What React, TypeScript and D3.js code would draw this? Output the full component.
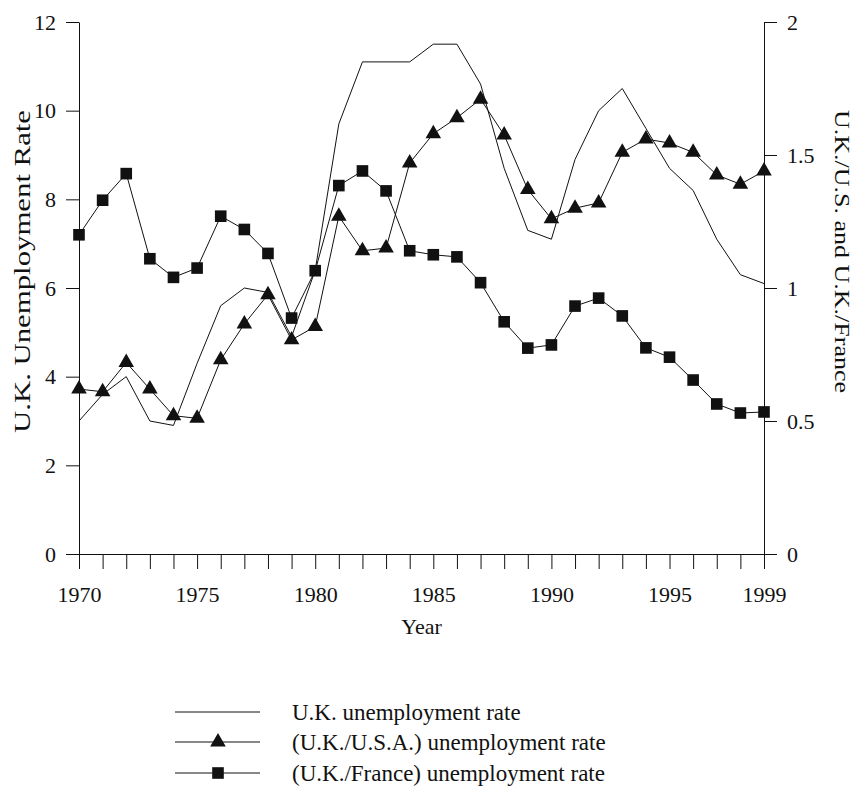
import React, { useEffect, useRef } from 'react';
import * as d3 from 'd3';

const years = d3.range(1970, 2000);
const ukRate = [3.0, 3.6, 4.0, 3.0, 2.9, 4.3, 5.6, 6.0, 5.9, 4.9, 6.4, 9.7, 11.1, 11.1, 11.1, 11.5, 11.5, 10.6, 8.7, 7.3, 7.1, 8.9, 10.0, 10.5, 9.6, 8.7, 8.2, 7.1, 6.3, 6.1];
const ukUsa = [0.62, 0.61, 0.72, 0.62, 0.52, 0.51, 0.73, 0.865, 0.975, 0.805, 0.855, 1.27, 1.14, 1.15, 1.47, 1.58, 1.64, 1.71, 1.575, 1.37, 1.26, 1.3, 1.32, 1.51, 1.56, 1.545, 1.51, 1.425, 1.39, 1.44];
const ukFrance = [1.2, 1.33, 1.43, 1.11, 1.04, 1.075, 1.27, 1.22, 1.13, 0.887, 1.065, 1.385, 1.44, 1.365, 1.14, 1.125, 1.117, 1.02, 0.873, 0.774, 0.786, 0.932, 0.962, 0.895, 0.775, 0.74, 0.654, 0.564, 0.53, 0.534];
const leftTicks = [0, 2, 4, 6, 8, 10, 12];
const rightTicks = [0, 0.5, 1, 1.5, 2];
const labelYears = [1970, 1975, 1980, 1985, 1990, 1995, 1999];
const legendLabels = ['U.K. unemployment rate', '(U.K./U.S.A.) unemployment rate', '(U.K./France) unemployment rate'];

function Chart() {
  const ref = useRef(null);

  useEffect(() => {
    const width = 855;
    const height = 792;
    const left = 79;
    const right = 764;
    const top = 22;
    const bottom = 554;
    const font = '"Liberation Serif", "Times New Roman", serif';
    const fs = 22;

    const svg = d3.select(ref.current);
    svg.selectAll('*').remove();
    svg.attr('width', width).attr('height', height);

    const x = d3.scaleLinear().domain([1970, 1999]).range([left, right]);
    const yL = d3.scaleLinear().domain([0, 12]).range([bottom, top]);
    const yR = d3.scaleLinear().domain([0, 2]).range([bottom, top]);

    const styleAxis = (g) => {
      g.attr('font-family', font).attr('font-size', fs);
      g.selectAll('line, path').attr('stroke', '#111');
      g.selectAll('text').attr('fill', '#111');
    };

    svg
      .append('g')
      .attr('transform', `translate(${left},0)`)
      .call(d3.axisLeft(yL).tickValues(leftTicks).tickSize(13).tickSizeOuter(0).tickPadding(10))
      .call(styleAxis);

    svg
      .append('g')
      .attr('transform', `translate(${right},0)`)
      .call(d3.axisRight(yR).tickValues(rightTicks).tickFormat(d3.format('')).tickSize(13).tickSizeOuter(0).tickPadding(10))
      .call(styleAxis);

    svg
      .append('g')
      .attr('transform', `translate(0,${bottom})`)
      .call(
        d3
          .axisBottom(x)
          .tickValues(years)
          .tickFormat((d) => (labelYears.includes(d) ? String(d) : ''))
          .tickSize(15)
          .tickSizeOuter(0)
          .tickPadding(17)
      )
      .call(styleAxis);

    svg
      .append('text')
      .attr('x', (left + right) / 2)
      .attr('y', 634)
      .attr('text-anchor', 'middle')
      .attr('font-family', font)
      .attr('font-size', fs)
      .attr('fill', '#111')
      .text('Year');

    // the axis titles are drawn wider than their font in the original
    svg
      .append('text')
      .attr('transform', 'translate(30,272) rotate(-90)')
      .attr('x', -161)
      .attr('font-family', font)
      .attr('font-size', 24)
      .attr('textLength', 323)
      .attr('lengthAdjust', 'spacingAndGlyphs')
      .attr('fill', '#111')
      .text('U.K. Unemployment Rate');

    svg
      .append('text')
      .attr('transform', 'translate(835,251) rotate(90)')
      .attr('x', -141)
      .attr('font-family', font)
      .attr('font-size', 22)
      .attr('textLength', 283)
      .attr('lengthAdjust', 'spacingAndGlyphs')
      .attr('fill', '#111')
      .text('U.K./U.S. and U.K./France');

    const lineL = d3
      .line()
      .x((d, i) => x(years[i]))
      .y((d) => yL(d));
    const lineR = d3
      .line()
      .x((d, i) => x(years[i]))
      .y((d) => yR(d));

    const plot = svg.append('g').attr('fill', 'none').attr('stroke', '#111').attr('stroke-width', 1);
    plot.append('path').attr('d', lineL(ukRate));
    plot.append('path').attr('d', lineR(ukUsa));
    plot.append('path').attr('d', lineR(ukFrance));

    const tri = d3.symbol().type(d3.symbolTriangle).size(105);
    const sq = d3.symbol().type(d3.symbolSquare).size(135);

    svg
      .append('g')
      .selectAll('path')
      .data(ukUsa)
      .join('path')
      .attr('transform', (d, i) => `translate(${x(years[i])},${yR(d)})`)
      .attr('d', tri())
      .attr('fill', '#111');

    svg
      .append('g')
      .selectAll('path')
      .data(ukFrance)
      .join('path')
      .attr('transform', (d, i) => `translate(${x(years[i])},${yR(d)})`)
      .attr('d', sq())
      .attr('fill', '#111');

    // legend
    const legendY = [712, 742, 773];
    const legend = svg
      .append('g')
      .selectAll('g')
      .data(legendLabels)
      .join('g')
      .attr('transform', (d, i) => `translate(0,${legendY[i]})`);
    legend.append('line').attr('x1', 175).attr('x2', 260).attr('stroke', '#111').attr('stroke-width', 1);
    legend
      .filter((d, i) => i > 0)
      .append('path')
      .attr('transform', 'translate(218,0)')
      .attr('d', (d, i) => (i === 0 ? tri() : sq()))
      .attr('fill', '#111');
    legend
      .append('text')
      .attr('x', 292)
      .attr('dy', '0.35em')
      .attr('font-family', font)
      .attr('font-size', 23)
      .attr('fill', '#111')
      .text((d) => d);
  }, []);

  return <svg ref={ref} style={{ position: 'absolute', left: 0, top: 0 }} />;
}

export default function App() {
  return <Chart />;
}
